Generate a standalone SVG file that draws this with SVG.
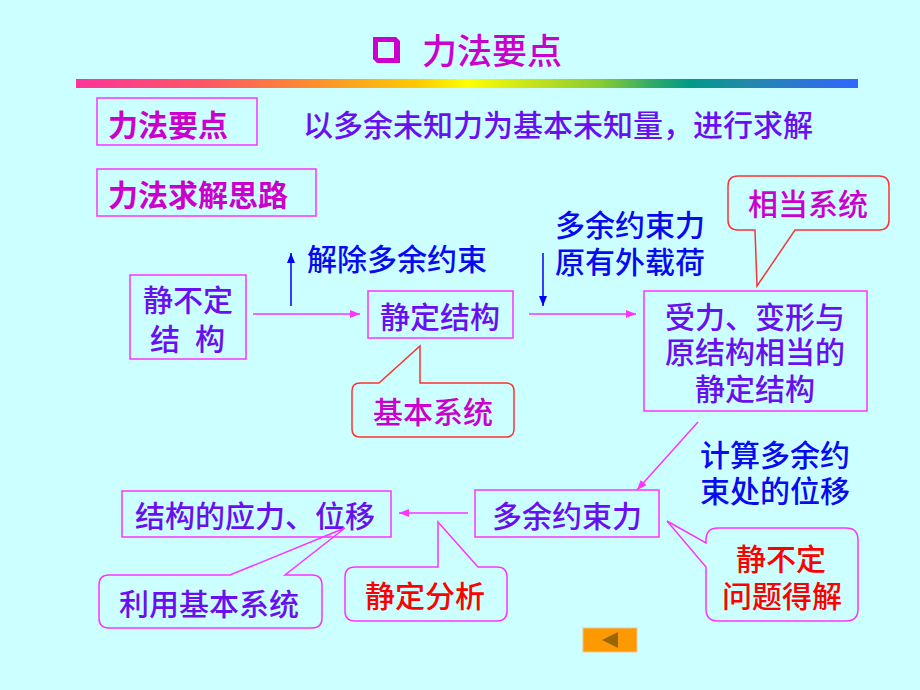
<svg xmlns="http://www.w3.org/2000/svg" width="920" height="690" viewBox="0 0 920 690">
<defs>
<linearGradient id="rainbow" gradientUnits="userSpaceOnUse" x1="76" y1="0" x2="858" y2="0">
<stop offset="0" stop-color="#FF3399"/>
<stop offset="0.16" stop-color="#FF5566"/>
<stop offset="0.29" stop-color="#FF8833"/>
<stop offset="0.44" stop-color="#FFCC00"/>
<stop offset="0.50" stop-color="#FFFF00"/>
<stop offset="0.60" stop-color="#BBDD22"/>
<stop offset="0.67" stop-color="#88CC33"/>
<stop offset="0.735" stop-color="#33AA66"/>
<stop offset="0.785" stop-color="#009988"/>
<stop offset="0.86" stop-color="#2288AA"/>
<stop offset="1" stop-color="#3366FF"/>
</linearGradient>
<marker id="ahM" markerUnits="userSpaceOnUse" markerWidth="11" markerHeight="9" refX="10" refY="4" orient="auto">
<path d="M0,0 L10,4 L0,8 Z" fill="#FF33FF"/>
</marker>
<marker id="ahB" markerUnits="userSpaceOnUse" markerWidth="11" markerHeight="9" refX="10" refY="4" orient="auto">
<path d="M0,0 L10,4 L0,8 Z" fill="#0000FF"/>
</marker>
</defs>
<style>
text { font-family: "Noto Sans CJK SC", "Noto Sans", sans-serif; font-size: 30px; font-weight: 500; }
.box { fill: none; stroke: #FF33FF; stroke-width: 1.5; }
.callR { fill: none; stroke: #FF3333; stroke-width: 1.5; }
.callM { fill: none; stroke: #FF33FF; stroke-width: 1.5; }
.conM { stroke: #FF33FF; stroke-width: 1.5; fill: none; marker-end: url(#ahM); }
.conB { stroke: #0000FF; stroke-width: 1.5; fill: none; marker-end: url(#ahB); }
.pur { fill: #6A10F0; }
.blu { fill: #0A0AF0; }
.mag { fill: #CC00CC; }
.magb { fill: #CC00CC; font-weight: bold; }
.red { fill: #FF0000; }
.mid { text-anchor: middle; }
</style>
<rect x="0" y="0" width="920" height="690" fill="#CCFFFF"/>

<g id="title">
<path d="M373 37 H396 L400 41 V63 H377 L373 59 Z M378 42 H394 V58 H378 Z" fill="#CC00CC" fill-rule="evenodd"/>
<text x="422" y="64" class="mag" style="font-size:35px">力法要点</text>
<rect x="76" y="79" width="782" height="9" fill="url(#rainbow)"/>
</g>

<g id="point">
<rect class="box" x="97" y="98" width="160" height="47"/>
<text x="108" y="136" class="magb">力法要点</text>
</g>
<g id="point-text">
<text x="303" y="136" class="pur">以多余未知力为基本未知量，进行求解</text>
</g>
<g id="idea">
<rect class="box" x="97" y="169" width="219" height="47"/>
<text x="108" y="206" class="magb">力法求解思路</text>
</g>

<g id="indeterminate">
<rect class="box" x="130" y="275" width="116" height="84"/>
<text x="188" y="311" class="pur mid">静不定</text>
<text y="350" class="pur mid"><tspan x="165">结</tspan><tspan x="210">构</tspan></text>
</g>

<g id="release-label">
<text x="307" y="270" class="blu">解除多余约束</text>
</g>

<g id="determinate">
<rect class="box" x="368" y="291" width="145" height="47"/>
<text x="380" y="328" class="pur">静定结构</text>
</g>

<g id="basic-system">
<path class="callR" d="M360,383 H379 L420,346 V383 H506 Q514,383 514,391 V429 Q514,437 506,437 H360 Q352,437 352,429 V391 Q352,383 360,383 Z"/>
<text x="373" y="423" class="mag">基本系统</text>
</g>

<g id="load-label">
<text x="555" y="236" class="blu">多余约束力</text>
<text x="555" y="273" class="blu">原有外载荷</text>
</g>

<g id="equiv-system">
<path class="callR" d="M738,176 H879 Q889,176 889,186 V220 Q889,230 879,230 H795 L757,286 L755,230 H738 Q728,230 728,220 V186 Q728,176 738,176 Z"/>
<text x="748" y="215" class="mag">相当系统</text>
</g>

<g id="equiv-structure">
<rect class="box" x="644" y="291" width="223" height="120"/>
<text x="755" y="328" class="pur mid">受力、变形与</text>
<text x="755" y="363" class="pur mid">原结构相当的</text>
<text x="755" y="400" class="pur mid">静定结构</text>
</g>

<g id="compute-label">
<text x="700" y="466" class="blu">计算多余约</text>
<text x="700" y="502" class="blu">束处的位移</text>
</g>

<g id="redundant-force">
<rect class="box" x="475" y="490" width="184" height="47"/>
<text x="492" y="527" class="pur">多余约束力</text>
</g>

<g id="solved">
<path class="callM" d="M718,528 H846 Q858,528 858,540 V609 Q858,621 846,621 H718 Q706,621 706,609 V567 L667,521 L706,543 V540 Q706,528 718,528 Z"/>
<text x="781" y="570" class="red mid">静不定</text>
<text x="782" y="607" class="red mid">问题得解</text>
</g>

<g id="result">
<rect class="box" x="122" y="491" width="269" height="46"/>
<text x="135" y="527" class="pur">结构的应力、位移</text>
</g>

<g id="use-basic">
<path class="callM" d="M109,575 H230 L345,528 L285,575 H312 Q322,575 322,585 V618 Q322,628 312,628 H109 Q99,628 99,618 V585 Q99,575 109,575 Z"/>
<text x="119" y="615" class="pur">利用基本系统</text>
</g>

<g id="static-analysis">
<path class="callM" d="M355,567 H438 V522 L478,567 H497 Q507,567 507,577 V611 Q507,621 497,621 H355 Q345,621 345,611 V577 Q345,567 355,567 Z"/>
<text x="365" y="607" class="red">静定分析</text>
</g>

<g id="back-button">
<rect x="583" y="628" width="54" height="24" fill="#FF9900" stroke="#E8C890" stroke-width="1"/>
<path d="M602,640 L618,632 V648 Z" fill="#996600"/>
</g>

<g id="connectors">
<line class="conM" x1="253" y1="314" x2="360" y2="314"/>
<line class="conM" x1="529" y1="314" x2="636" y2="314"/>
<line class="conM" x1="698" y1="422" x2="637" y2="490"/>
<line class="conM" x1="468" y1="513" x2="399" y2="513"/>
<line class="conB" x1="291" y1="306" x2="291" y2="253"/>
<line class="conB" x1="543" y1="253" x2="543" y2="306"/>
</g>
</svg>
